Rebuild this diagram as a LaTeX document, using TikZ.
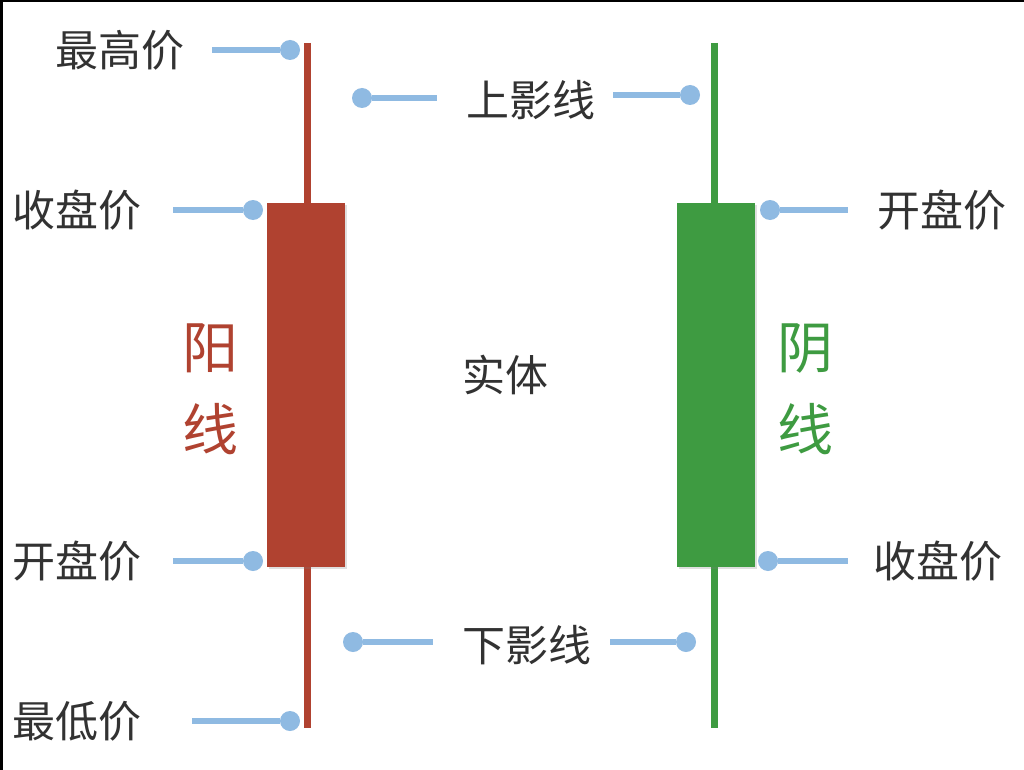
\documentclass[tikz,border=0pt]{standalone}
\usepackage{fontspec}
\newfontfamily\cjk{Noto Sans CJK SC}
\usetikzlibrary{positioning,shadows}
\definecolor{yangred}{RGB}{176,66,48}
\definecolor{yingreen}{RGB}{62,155,65}
\definecolor{pinblue}{RGB}{143,186,226}
\definecolor{txtgray}{RGB}{50,50,50}
\tikzset{
    lbl/.style={font=\cjk\fontsize{43}{50}\selectfont, text=txtgray, inner sep=0pt},
    kind/.style={font=\cjk\fontsize{56}{82}\selectfont, align=center, inner sep=0pt},
    dot/.style={circle, fill=pinblue, inner sep=0pt, minimum size=20pt},
    pin/.style={draw=pinblue, line width=5.5pt},
    wick/.style={line width=7pt},
    body/.style={drop shadow={opacity=0.25, shadow xshift=2pt, shadow yshift=-2pt}}
}
\begin{document}
\begin{tikzpicture}[x=1pt,y=-1pt]
        \useasboundingbox (0,0) rectangle (1024,770);
        \fill[white] (0,0) rectangle (1024,770);
        \draw[line width=5pt] (0,770) -- (0,0) -- (1024,0);

        \draw[wick, yangred] (307,43) -- (307,728);
        \fill[body, yangred] (267,203) rectangle (345,567);
        \draw[wick, yingreen] (714,43) -- (714,728);
        \fill[body, yingreen] (677,203) rectangle (755,567);

        \node[kind, text=yangred] (yang) at (210,389) {阳\\线};
        \node[kind, text=yingreen] (yin) at (805,389) {阴\\线};
        \node[lbl] (shiti) at (505,375) {实体};

        \node[dot] (hiD) at (290,50) {};
        \coordinate (hiE) at (212,50);
        \node[lbl, left=27pt of hiE] (hi) {最高价};
        \draw[pin] (hiE) -- (hiD);

        \node[dot] (lcD) at (253,210) {};
        \coordinate (lcE) at (173,210);
        \node[lbl, left=31pt of lcE] (lc) {收盘价};
        \draw[pin] (lcE) -- (lcD);

        \node[dot] (loD) at (253,561) {};
        \coordinate (loE) at (173,561);
        \node[lbl, left=31pt of loE] (lo) {开盘价};
        \draw[pin] (loE) -- (loD);

        \node[dot] (lowD) at (290,721) {};
        \coordinate (lowE) at (192,721);
        \node[lbl, left=50pt of lowE] (low) {最低价};
        \draw[pin] (lowE) -- (lowD);

        \node[lbl] (up) at (531,100) {上影线};
        \node[dot] (upL) at (362,98) {};
        \node[dot] (upR) at (690,95) {};
        \coordinate (upLE) at (437,98);
        \coordinate (upRE) at (613,95);
        \draw[pin] (upL) -- (upLE);
        \draw[pin] (upRE) -- (upR);

        \node[lbl] (dn) at (527,645) {下影线};
        \node[dot] (dnL) at (353,642) {};
        \node[dot] (dnR) at (686,642) {};
        \coordinate (dnLE) at (433,642);
        \coordinate (dnRE) at (610,642);
        \draw[pin] (dnL) -- (dnLE);
        \draw[pin] (dnRE) -- (dnR);

        \node[dot] (roD) at (770,210) {};
        \coordinate (roE) at (848,210);
        \node[lbl, right=29pt of roE] (ro) {开盘价};
        \draw[pin] (roD) -- (roE);

        \node[dot] (rcD) at (768,561) {};
        \coordinate (rcE) at (848,561);
        \node[lbl, right=25pt of rcE] (rc) {收盘价};
        \draw[pin] (rcD) -- (rcE);
    \end{tikzpicture}
\end{document}
